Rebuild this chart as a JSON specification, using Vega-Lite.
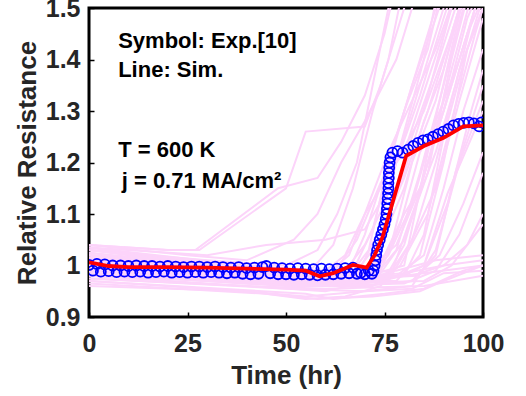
{
  "$schema": "https://vega.github.io/schema/vega-lite/v6.json",
  "width": 394,
  "height": 309,
  "autosize": "none",
  "padding": {"left": 89, "top": 8, "right": 43, "bottom": 79},
  "background": "white",
  "config": {
    "view": {"stroke": "black", "strokeWidth": 3},
    "font": "Liberation Sans",
    "axis": {
      "grid": false,
      "domain": false,
      "labelFlush": false,
      "labelFont": "Liberation Sans",
      "labelFontWeight": "bold",
      "labelFontSize": 25,
      "labelColor": "#262626",
      "titleFont": "Liberation Sans",
      "titleFontWeight": "bold",
      "titleFontSize": 26,
      "titleColor": "#262626",
      "tickColor": "#000000",
      "tickWidth": 1.5,
      "tickSize": -5
    }
  },
  "datasets": {
    "sim": [
      {"s":"A1","t":0,"r":1.04},{"s":"A1","t":20,"r":1.03},{"s":"A1","t":28,"r":1.03},{"s":"A1","t":50,"r":1.15},{"s":"A1","t":55,"r":1.26},{"s":"A1","t":70,"r":1.27},{"s":"A1","t":74,"r":1.35},{"s":"A1","t":80,"r":1.5},{"s":"A1","t":82,"r":1.55},
      {"s":"A2","t":0,"r":1.04},{"s":"A2","t":20,"r":1.03},{"s":"A2","t":27,"r":1.03},{"s":"A2","t":48,"r":1.15},{"s":"A2","t":58,"r":1.17},{"s":"A2","t":64,"r":1.24},{"s":"A2","t":70,"r":1.33},{"s":"A2","t":75,"r":1.45},{"s":"A2","t":78,"r":1.55},
      {"s":"A3","t":0,"r":1.035},{"s":"A3","t":30,"r":1.02},{"s":"A3","t":45,"r":1.04},{"s":"A3","t":60,"r":1.05},{"s":"A3","t":70,"r":1.07},{"s":"A3","t":76,"r":1.15},{"s":"A3","t":82,"r":1.3},{"s":"A3","t":90,"r":1.5},{"s":"A3","t":92,"r":1.55},
      {"s":"A4","t":0,"r":1.03},{"s":"A4","t":30,"r":1.01},{"s":"A4","t":50,"r":1.0},{"s":"A4","t":58,"r":1.03},{"s":"A4","t":63,"r":1.1},{"s":"A4","t":68,"r":1.2},{"s":"A4","t":72,"r":1.35},{"s":"A4","t":76,"r":1.5},{"s":"A4","t":78,"r":1.55},
      {"s":"A5","t":0,"r":1.04},{"s":"A5","t":25,"r":1.02},{"s":"A5","t":40,"r":1.01},{"s":"A5","t":52,"r":1.05},{"s":"A5","t":58,"r":1.1},{"s":"A5","t":64,"r":1.2},{"s":"A5","t":70,"r":1.28},{"s":"A5","t":78,"r":1.4},{"s":"A5","t":84,"r":1.55},
      {"s":"A6","t":0,"r":1.02},{"s":"A6","t":40,"r":0.99},{"s":"A6","t":55,"r":0.98},{"s":"A6","t":62,"r":1.04},{"s":"A6","t":67,"r":1.15},{"s":"A6","t":72,"r":1.3},{"s":"A6","t":76,"r":1.4},{"s":"A6","t":80,"r":1.55},
      {"s":"B1","t":0,"r":1.01},{"s":"B1","t":40,"r":0.98},{"s":"B1","t":60,"r":0.97},{"s":"B1","t":66,"r":0.99},{"s":"B1","t":70,"r":1.06},{"s":"B1","t":75,"r":1.18},{"s":"B1","t":80,"r":1.3},{"s":"B1","t":86,"r":1.45},{"s":"B1","t":90,"r":1.55},
      {"s":"B2","t":0,"r":1.0},{"s":"B2","t":40,"r":0.97},{"s":"B2","t":60,"r":0.96},{"s":"B2","t":68,"r":0.98},{"s":"B2","t":73,"r":1.06},{"s":"B2","t":78,"r":1.2},{"s":"B2","t":84,"r":1.33},{"s":"B2","t":90,"r":1.48},{"s":"B2","t":93,"r":1.55},
      {"s":"B3","t":0,"r":0.99},{"s":"B3","t":40,"r":0.97},{"s":"B3","t":60,"r":0.96},{"s":"B3","t":70,"r":0.98},{"s":"B3","t":75,"r":1.08},{"s":"B3","t":80,"r":1.17},{"s":"B3","t":86,"r":1.3},{"s":"B3","t":92,"r":1.45},{"s":"B3","t":96,"r":1.55},
      {"s":"B4","t":0,"r":0.98},{"s":"B4","t":40,"r":0.96},{"s":"B4","t":60,"r":0.95},{"s":"B4","t":72,"r":0.97},{"s":"B4","t":77,"r":1.05},{"s":"B4","t":82,"r":1.2},{"s":"B4","t":88,"r":1.32},{"s":"B4","t":94,"r":1.5},{"s":"B4","t":96,"r":1.55},
      {"s":"B5","t":0,"r":0.97},{"s":"B5","t":40,"r":0.95},{"s":"B5","t":55,"r":0.935},{"s":"B5","t":65,"r":0.94},{"s":"B5","t":74,"r":0.96},{"s":"B5","t":80,"r":1.04},{"s":"B5","t":86,"r":1.2},{"s":"B5","t":92,"r":1.38},{"s":"B5","t":98,"r":1.55},
      {"s":"B6","t":0,"r":1.035},{"s":"B6","t":30,"r":1.0},{"s":"B6","t":50,"r":0.98},{"s":"B6","t":68,"r":0.99},{"s":"B6","t":74,"r":1.05},{"s":"B6","t":80,"r":1.18},{"s":"B6","t":86,"r":1.33},{"s":"B6","t":92,"r":1.5},{"s":"B6","t":94,"r":1.55},
      {"s":"B7","t":0,"r":1.025},{"s":"B7","t":35,"r":0.99},{"s":"B7","t":60,"r":0.98},{"s":"B7","t":72,"r":1.0},{"s":"B7","t":78,"r":1.04},{"s":"B7","t":84,"r":1.15},{"s":"B7","t":90,"r":1.3},{"s":"B7","t":96,"r":1.45},{"s":"B7","t":100,"r":1.55},
      {"s":"B8","t":0,"r":1.015},{"s":"B8","t":40,"r":0.98},{"s":"B8","t":60,"r":0.975},{"s":"B8","t":76,"r":0.98},{"s":"B8","t":82,"r":1.05},{"s":"B8","t":88,"r":1.2},{"s":"B8","t":94,"r":1.38},{"s":"B8","t":100,"r":1.5},
      {"s":"B9","t":0,"r":1.005},{"s":"B9","t":40,"r":0.975},{"s":"B9","t":60,"r":0.97},{"s":"B9","t":78,"r":0.98},{"s":"B9","t":85,"r":1.02},{"s":"B9","t":90,"r":1.15},{"s":"B9","t":95,"r":1.3},{"s":"B9","t":100,"r":1.42},
      {"s":"B10","t":0,"r":1.03},{"s":"B10","t":40,"r":0.99},{"s":"B10","t":60,"r":0.98},{"s":"B10","t":66,"r":1.02},{"s":"B10","t":71,"r":1.12},{"s":"B10","t":76,"r":1.22},{"s":"B10","t":82,"r":1.32},{"s":"B10","t":88,"r":1.42},{"s":"B10","t":94,"r":1.55},
      {"s":"B11","t":0,"r":1.02},{"s":"B11","t":45,"r":0.985},{"s":"B11","t":65,"r":0.975},{"s":"B11","t":72,"r":1.0},{"s":"B11","t":76,"r":1.1},{"s":"B11","t":82,"r":1.25},{"s":"B11","t":88,"r":1.38},{"s":"B11","t":93,"r":1.5},{"s":"B11","t":95,"r":1.55},
      {"s":"B12","t":0,"r":1.01},{"s":"B12","t":45,"r":0.98},{"s":"B12","t":65,"r":0.97},{"s":"B12","t":74,"r":0.99},{"s":"B12","t":79,"r":1.08},{"s":"B12","t":84,"r":1.22},{"s":"B12","t":90,"r":1.3},{"s":"B12","t":96,"r":1.45},{"s":"B12","t":100,"r":1.52},
      {"s":"B13","t":0,"r":1.0},{"s":"B13","t":45,"r":0.975},{"s":"B13","t":70,"r":0.97},{"s":"B13","t":77,"r":0.99},{"s":"B13","t":82,"r":1.1},{"s":"B13","t":88,"r":1.22},{"s":"B13","t":93,"r":1.35},{"s":"B13","t":98,"r":1.5},{"s":"B13","t":100,"r":1.55},
      {"s":"B14","t":0,"r":0.99},{"s":"B14","t":45,"r":0.97},{"s":"B14","t":70,"r":0.965},{"s":"B14","t":80,"r":0.98},{"s":"B14","t":85,"r":1.06},{"s":"B14","t":90,"r":1.25},{"s":"B14","t":96,"r":1.42},{"s":"B14","t":100,"r":1.5},
      {"s":"B15","t":0,"r":0.98},{"s":"B15","t":45,"r":0.965},{"s":"B15","t":70,"r":0.96},{"s":"B15","t":82,"r":0.97},{"s":"B15","t":88,"r":1.02},{"s":"B15","t":93,"r":1.18},{"s":"B15","t":100,"r":1.35},
      {"s":"B16","t":0,"r":1.035},{"s":"B16","t":40,"r":1.0},{"s":"B16","t":60,"r":0.99},{"s":"B16","t":65,"r":1.02},{"s":"B16","t":70,"r":1.1},{"s":"B16","t":78,"r":1.2},{"s":"B16","t":85,"r":1.3},{"s":"B16","t":92,"r":1.45},{"s":"B16","t":96,"r":1.55},
      {"s":"B17","t":0,"r":1.02},{"s":"B17","t":50,"r":0.985},{"s":"B17","t":66,"r":0.98},{"s":"B17","t":71,"r":1.03},{"s":"B17","t":76,"r":1.2},{"s":"B17","t":80,"r":1.3},{"s":"B17","t":86,"r":1.42},{"s":"B17","t":90,"r":1.55},
      {"s":"B18","t":0,"r":1.005},{"s":"B18","t":50,"r":0.975},{"s":"B18","t":72,"r":0.975},{"s":"B18","t":78,"r":1.03},{"s":"B18","t":84,"r":1.18},{"s":"B18","t":90,"r":1.35},{"s":"B18","t":95,"r":1.5},{"s":"B18","t":97,"r":1.55},
      {"s":"B19","t":0,"r":0.99},{"s":"B19","t":50,"r":0.965},{"s":"B19","t":76,"r":0.97},{"s":"B19","t":82,"r":1.05},{"s":"B19","t":88,"r":1.15},{"s":"B19","t":94,"r":1.32},{"s":"B19","t":100,"r":1.48},
      {"s":"B20","t":0,"r":0.975},{"s":"B20","t":50,"r":0.955},{"s":"B20","t":70,"r":0.95},{"s":"B20","t":82,"r":0.96},{"s":"B20","t":88,"r":1.03},{"s":"B20","t":94,"r":1.2},{"s":"B20","t":100,"r":1.32},
      {"s":"B21","t":0,"r":1.03},{"s":"B21","t":50,"r":0.99},{"s":"B21","t":67,"r":0.99},{"s":"B21","t":72,"r":1.07},{"s":"B21","t":77,"r":1.22},{"s":"B21","t":82,"r":1.35},{"s":"B21","t":88,"r":1.48},{"s":"B21","t":91,"r":1.55},
      {"s":"B22","t":0,"r":1.01},{"s":"B22","t":50,"r":0.98},{"s":"B22","t":74,"r":0.985},{"s":"B22","t":80,"r":1.05},{"s":"B22","t":86,"r":1.18},{"s":"B22","t":92,"r":1.4},{"s":"B22","t":97,"r":1.55},
      {"s":"B23","t":0,"r":1.0},{"s":"B23","t":55,"r":0.97},{"s":"B23","t":77,"r":0.975},{"s":"B23","t":85,"r":1.0},{"s":"B23","t":91,"r":1.12},{"s":"B23","t":97,"r":1.3},{"s":"B23","t":100,"r":1.38},
      {"s":"B24","t":0,"r":0.985},{"s":"B24","t":55,"r":0.96},{"s":"B24","t":80,"r":0.965},{"s":"B24","t":88,"r":0.99},{"s":"B24","t":94,"r":1.06},{"s":"B24","t":100,"r":1.18},
      {"s":"B25","t":0,"r":1.025},{"s":"B25","t":50,"r":0.985},{"s":"B25","t":70,"r":0.985},{"s":"B25","t":75,"r":1.06},{"s":"B25","t":80,"r":1.15},{"s":"B25","t":85,"r":1.28},{"s":"B25","t":90,"r":1.38},{"s":"B25","t":96,"r":1.55},
      {"s":"B26","t":0,"r":1.015},{"s":"B26","t":55,"r":0.98},{"s":"B26","t":73,"r":0.985},{"s":"B26","t":80,"r":1.0},{"s":"B26","t":86,"r":1.22},{"s":"B26","t":92,"r":1.42},{"s":"B26","t":96,"r":1.55},
      {"s":"B27","t":0,"r":0.995},{"s":"B27","t":55,"r":0.97},{"s":"B27","t":78,"r":0.97},{"s":"B27","t":84,"r":1.02},{"s":"B27","t":90,"r":1.2},{"s":"B27","t":96,"r":1.42},{"s":"B27","t":100,"r":1.52},
      {"s":"B28","t":0,"r":1.02},{"s":"B28","t":55,"r":0.98},{"s":"B28","t":70,"r":0.98},{"s":"B28","t":75,"r":1.02},{"s":"B28","t":80,"r":1.1},{"s":"B28","t":84,"r":1.15},{"s":"B28","t":90,"r":1.3},{"s":"B28","t":96,"r":1.48},{"s":"B28","t":100,"r":1.55},
      {"s":"B29","t":0,"r":1.01},{"s":"B29","t":60,"r":0.975},{"s":"B29","t":80,"r":0.98},{"s":"B29","t":85,"r":1.0},{"s":"B29","t":91,"r":1.14},{"s":"B29","t":100,"r":1.3},
      {"s":"B30","t":0,"r":1.0},{"s":"B30","t":60,"r":0.97},{"s":"B30","t":83,"r":0.98},{"s":"B30","t":89,"r":1.02},{"s":"B30","t":95,"r":1.12},{"s":"B30","t":100,"r":1.22},
      {"s":"B31","t":0,"r":1.03},{"s":"B31","t":45,"r":0.99},{"s":"B31","t":62,"r":0.985},{"s":"B31","t":68,"r":1.05},{"s":"B31","t":74,"r":1.16},{"s":"B31","t":80,"r":1.22},{"s":"B31","t":86,"r":1.36},{"s":"B31","t":92,"r":1.5},{"s":"B31","t":94,"r":1.55},
      {"s":"B32","t":0,"r":1.02},{"s":"B32","t":50,"r":0.98},{"s":"B32","t":64,"r":0.98},{"s":"B32","t":70,"r":1.04},{"s":"B32","t":75,"r":1.12},{"s":"B32","t":80,"r":1.26},{"s":"B32","t":85,"r":1.4},{"s":"B32","t":89,"r":1.55},
      {"s":"B33","t":0,"r":0.995},{"s":"B33","t":50,"r":0.97},{"s":"B33","t":70,"r":0.97},{"s":"B33","t":76,"r":1.02},{"s":"B33","t":82,"r":1.12},{"s":"B33","t":88,"r":1.28},{"s":"B33","t":94,"r":1.4},{"s":"B33","t":100,"r":1.55},
      {"s":"B34","t":0,"r":0.985},{"s":"B34","t":50,"r":0.96},{"s":"B34","t":72,"r":0.96},{"s":"B34","t":79,"r":1.0},{"s":"B34","t":86,"r":1.1},{"s":"B34","t":92,"r":1.28},{"s":"B34","t":98,"r":1.45},{"s":"B34","t":100,"r":1.5},
      {"s":"C1","t":0,"r":0.995},{"s":"C1","t":40,"r":0.97},{"s":"C1","t":60,"r":0.965},{"s":"C1","t":85,"r":0.97},{"s":"C1","t":92,"r":1.0},{"s":"C1","t":100,"r":1.08},
      {"s":"C2","t":0,"r":0.985},{"s":"C2","t":40,"r":0.965},{"s":"C2","t":60,"r":0.96},{"s":"C2","t":80,"r":0.98},{"s":"C2","t":100,"r":1.0},
      {"s":"C3","t":0,"r":0.975},{"s":"C3","t":40,"r":0.96},{"s":"C3","t":60,"r":0.955},{"s":"C3","t":85,"r":0.96},{"s":"C3","t":100,"r":0.98},
      {"s":"C4","t":0,"r":0.97},{"s":"C4","t":55,"r":0.945},{"s":"C4","t":62,"r":0.935},{"s":"C4","t":75,"r":0.945},{"s":"C4","t":85,"r":0.955},{"s":"C4","t":95,"r":0.99},{"s":"C4","t":100,"r":1.0},
      {"s":"C5","t":0,"r":0.96},{"s":"C5","t":40,"r":0.95},{"s":"C5","t":55,"r":0.94},{"s":"C5","t":70,"r":0.95},{"s":"C5","t":82,"r":0.955},{"s":"C5","t":90,"r":0.985},{"s":"C5","t":100,"r":0.99},
      {"s":"C6","t":0,"r":1.0},{"s":"C6","t":50,"r":0.97},{"s":"C6","t":80,"r":0.985},{"s":"C6","t":90,"r":1.0},{"s":"C6","t":100,"r":1.01},
      {"s":"C7","t":0,"r":1.02},{"s":"C7","t":50,"r":0.98},{"s":"C7","t":78,"r":0.99},{"s":"C7","t":88,"r":1.01},{"s":"C7","t":100,"r":1.02},
      {"s":"C8","t":0,"r":0.965},{"s":"C8","t":45,"r":0.945},{"s":"C8","t":58,"r":0.935},{"s":"C8","t":72,"r":0.94},{"s":"C8","t":84,"r":0.95},{"s":"C8","t":90,"r":0.97},{"s":"C8","t":100,"r":1.0},
      {"s":"C9","t":0,"r":1.01},{"s":"C9","t":50,"r":0.975},{"s":"C9","t":82,"r":0.98},{"s":"C9","t":90,"r":1.0},{"s":"C9","t":96,"r":1.04},{"s":"C9","t":100,"r":1.1}
    ],
    "exp": [
      {"t":0,"r":1.001},{"t":1,"r":0.99},{"t":2,"r":1.003},{"t":3,"r":0.988},{"t":4,"r":1.002},{"t":5,"r":0.989},{"t":6,"r":1.0},{"t":7,"r":0.987},{"t":8,"r":1.0},{"t":9,"r":0.988},
      {"t":10,"r":0.999},{"t":11,"r":0.987},{"t":12,"r":1.0},{"t":13,"r":0.988},{"t":14,"r":0.999},{"t":15,"r":0.986},{"t":16,"r":0.999},{"t":17,"r":0.987},{"t":18,"r":0.998},{"t":19,"r":0.988},
      {"t":20,"r":0.999},{"t":21,"r":0.986},{"t":22,"r":0.998},{"t":23,"r":0.987},{"t":24,"r":0.997},{"t":25,"r":0.986},{"t":26,"r":0.998},{"t":27,"r":0.987},{"t":28,"r":0.998},{"t":29,"r":0.986},
      {"t":30,"r":0.997},{"t":31,"r":0.987},{"t":32,"r":0.998},{"t":33,"r":0.986},{"t":34,"r":0.997},{"t":35,"r":0.985},{"t":36,"r":0.996},{"t":37,"r":0.986},{"t":38,"r":0.997},{"t":39,"r":0.984},
      {"t":40,"r":0.995},{"t":41,"r":0.983},{"t":42,"r":0.996},{"t":43,"r":0.984},{"t":44,"r":0.997},{"t":45,"r":0.999},{"t":46,"r":0.985},{"t":47,"r":0.996},{"t":48,"r":0.983},{"t":49,"r":0.995},
      {"t":50,"r":0.983},{"t":51,"r":0.994},{"t":52,"r":0.982},{"t":53,"r":0.995},{"t":54,"r":0.983},{"t":55,"r":0.994},{"t":56,"r":0.982},{"t":57,"r":0.993},{"t":58,"r":0.981},{"t":59,"r":0.994},
      {"t":60,"r":0.982},{"t":61,"r":0.993},{"t":62,"r":0.983},{"t":63,"r":0.994},{"t":64,"r":0.984},{"t":65,"r":0.995},{"t":66,"r":0.985},{"t":67,"r":0.996},{"t":68,"r":0.984},{"t":69,"r":0.986},
      {"t":70,"r":0.983},{"t":71,"r":0.99},{"t":71.8,"r":0.984},{"t":72.2,"r":0.99},{"t":72.5,"r":1.0},{"t":72.7,"r":1.01},{"t":72.9,"r":1.02},{"t":73.1,"r":1.03},{"t":73.4,"r":1.04},{"t":73.8,"r":1.05},
      {"t":74.2,"r":1.06},{"t":74.6,"r":1.07},{"t":75,"r":1.08},{"t":75.3,"r":1.09},{"t":75.5,"r":1.1},{"t":75.6,"r":1.11},{"t":75.7,"r":1.12},{"t":75.8,"r":1.13},{"t":75.9,"r":1.14},{"t":76,"r":1.15},
      {"t":76,"r":1.16},{"t":76.1,"r":1.17},{"t":76.1,"r":1.18},{"t":76.2,"r":1.19},{"t":76.3,"r":1.2},{"t":76.5,"r":1.21},{"t":77,"r":1.219},{"t":78.3,"r":1.222},{"t":79.6,"r":1.219},
      {"t":81,"r":1.225},{"t":82.3,"r":1.232},{"t":83.5,"r":1.238},{"t":84.8,"r":1.243},{"t":86,"r":1.245},{"t":87.3,"r":1.25},{"t":88.6,"r":1.255},{"t":89.9,"r":1.26},{"t":91.2,"r":1.265},
      {"t":92.5,"r":1.272},{"t":93.8,"r":1.275},{"t":95.1,"r":1.277},{"t":96.4,"r":1.278},{"t":97.7,"r":1.276},{"t":99,"r":1.27},{"t":99.6,"r":1.278}
    ],
    "mean": [
      {"t":0,"r":1.006},{"t":5,"r":0.999},{"t":10,"r":0.997},{"t":20,"r":0.997},{"t":30,"r":0.996},{"t":40,"r":0.994},{"t":50,"r":0.992},{"t":55,"r":0.99},{"t":58.5,"r":0.979},{"t":62,"r":0.985},{"t":67,"r":1.001},{"t":70.5,"r":0.996},{"t":72.5,"r":1.02},{"t":74.5,"r":1.055},{"t":80.5,"r":1.213},{"t":85,"r":1.232},{"t":90,"r":1.248},{"t":95,"r":1.27},{"t":100,"r":1.272}
    ],
    "txt": [
      {"t":7.4,"r":1.4217,"label":"Symbol: Exp.[10]"},
      {"t":7.4,"r":1.3666,"label":"Line: Sim."},
      {"t":7.4,"r":1.2113,"label":"T = 600 K"},
      {"t":8.3,"r":1.1505,"label":"j = 0.71 MA/cm²"}
    ]
  },
  "layer": [
    {
      "data": {"name": "sim"},
      "mark": {"type": "line", "color": "#fcd4fa", "strokeWidth": 2, "clip": true},
      "encoding": {
        "x": {"field": "t", "type": "quantitative", "scale": {"domain": [0, 100]},
              "axis": {"values": [0, 25, 50, 75, 100], "title": "Time (hr)", "labelPadding": 19, "titlePadding": 6}},
        "y": {"field": "r", "type": "quantitative", "scale": {"domain": [0.9, 1.5]},
              "axis": {"values": [0.9, 1, 1.1, 1.2, 1.3, 1.4, 1.5], "format": "~g", "title": "Relative Resistance", "labelPadding": 14, "titlePadding": 5}},
        "detail": {"field": "s", "type": "nominal"}
      }
    },
    {
      "data": {"name": "exp"},
      "mark": {"type": "point", "shape": "circle", "filled": false, "color": "#0000ff", "strokeWidth": 1.8, "size": 100, "opacity": 1, "clip": true},
      "encoding": {
        "x": {"field": "t", "type": "quantitative"},
        "y": {"field": "r", "type": "quantitative"}
      }
    },
    {
      "data": {"name": "mean"},
      "mark": {"type": "line", "color": "#ff0000", "strokeWidth": 3.8, "clip": true},
      "encoding": {
        "x": {"field": "t", "type": "quantitative"},
        "y": {"field": "r", "type": "quantitative"}
      }
    },
    {
      "data": {"name": "txt"},
      "mark": {"type": "text", "align": "left", "baseline": "alphabetic", "font": "Liberation Sans", "fontWeight": "bold", "fontSize": 22, "color": "#000000"},
      "encoding": {
        "x": {"field": "t", "type": "quantitative"},
        "y": {"field": "r", "type": "quantitative"},
        "text": {"field": "label"}
      }
    }
  ]
}
